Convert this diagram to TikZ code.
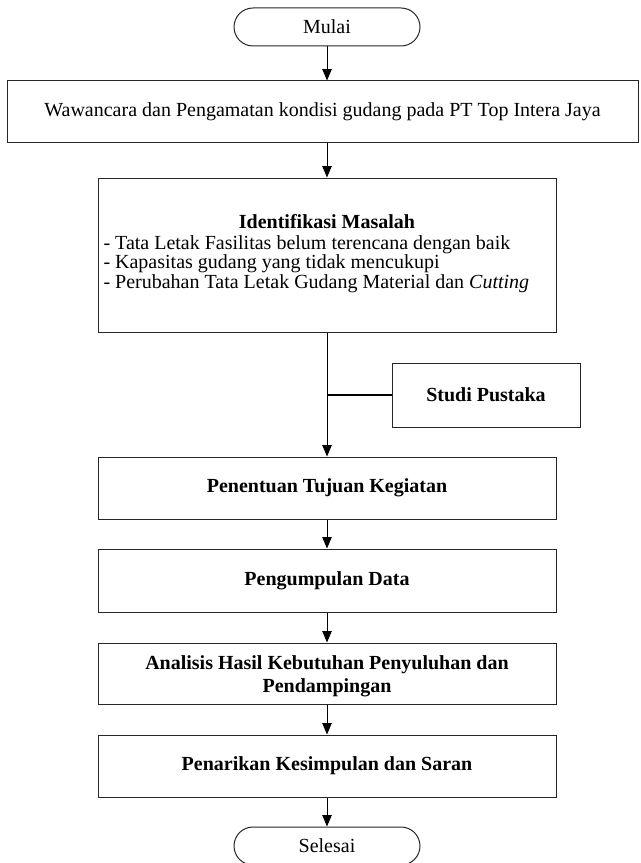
\documentclass[tikz,border=0pt]{standalone}
\usepackage{fontspec}
\setmainfont{Liberation Serif}
\usetikzlibrary{shapes.misc,arrows.meta}
\tikzset{every picture/.style={line width=0.75pt}}
\tikzset{
	flowbox/.style={draw=black!85, minimum width=343.5pt, minimum height=46.5pt, inner sep=0pt, font=\fontsize{15}{17.25}\selectfont\bfseries, align=center},
	termbox/.style={draw=black!85, rounded rectangle, minimum width=139.5pt, minimum height=28.5pt, inner sep=0pt, font=\fontsize{15}{17.25}\selectfont},
	flow/.style={-{Triangle[length=8.5pt,width=7pt]}, black}
}

\begin{document}
\begin{tikzpicture}[x=0.75pt,y=0.75pt,yscale=-1,xscale=1]
	\useasboundingbox (0,0) rectangle (640,863);

	% Terminator
	\node[termbox] (mulai) at (327,27) {Mulai};
	% Process boxes
	\node[flowbox, minimum width=473.25pt, font=\fontsize{15}{17.25}\selectfont] (wawancara) at (322.5,112) {Wawancara dan Pengamatan kondisi gudang pada PT Top Intera Jaya};
	\node[flowbox, minimum height=115.5pt] (identifikasi) at (327,255) {};
	\node[font=\fontsize{15}{17.25}\selectfont\bfseries, inner sep=0pt] (judul) at (327,222) {Identifikasi Masalah};
	\node[anchor=west, inner sep=0pt, align=left, font=\fontsize{15}{12.75}\selectfont] (masalah) at (103,264) {- Tata Letak Fasilitas belum terencana dengan baik\\- Kapasitas gudang yang tidak mencukupi\\- Perubahan Tata Letak Gudang Material dan \textit{Cutting}};
	\node[flowbox, minimum width=141pt, minimum height=48pt] (pustaka) at (486,395) {Studi Pustaka};
	\node[flowbox] (tujuan) at (327,488) {Penentuan Tujuan Kegiatan};
	\node[flowbox, minimum height=47.25pt] (data) at (327,580.5) {Pengumpulan Data};
	\node[flowbox, minimum height=45.75pt] (analisis) at (327,673.5) {};
	\node[font=\fontsize{15}{17.25}\selectfont\bfseries, align=center, inner sep=0pt] (analisisteks) at (327,676) {Analisis Hasil Kebutuhan Penyuluhan dan\\Pendampingan};
	\node[flowbox] (kesimpulan) at (327,766) {Penarikan Kesimpulan dan Saran};
	% Terminator
	\node[termbox] (selesai) at (327,846) {Selesai};

	% Connectors
	\draw[flow] (mulai.south) -- (mulai.south |- wawancara.north);
	\draw[flow] (mulai.south |- wawancara.south) -- (identifikasi.north);
	\draw[flow] (identifikasi.south) -- (tujuan.north);
	\draw[line width=1.2pt] (pustaka.west) -- (pustaka.west -| identifikasi.south);
	\draw[flow] (tujuan.south) -- (data.north);
	\draw[flow] (data.south) -- (analisis.north);
	\draw[flow] (analisis.south) -- (kesimpulan.north);
	\draw[flow] (kesimpulan.south) -- (selesai.north);

\end{tikzpicture}
\end{document}
